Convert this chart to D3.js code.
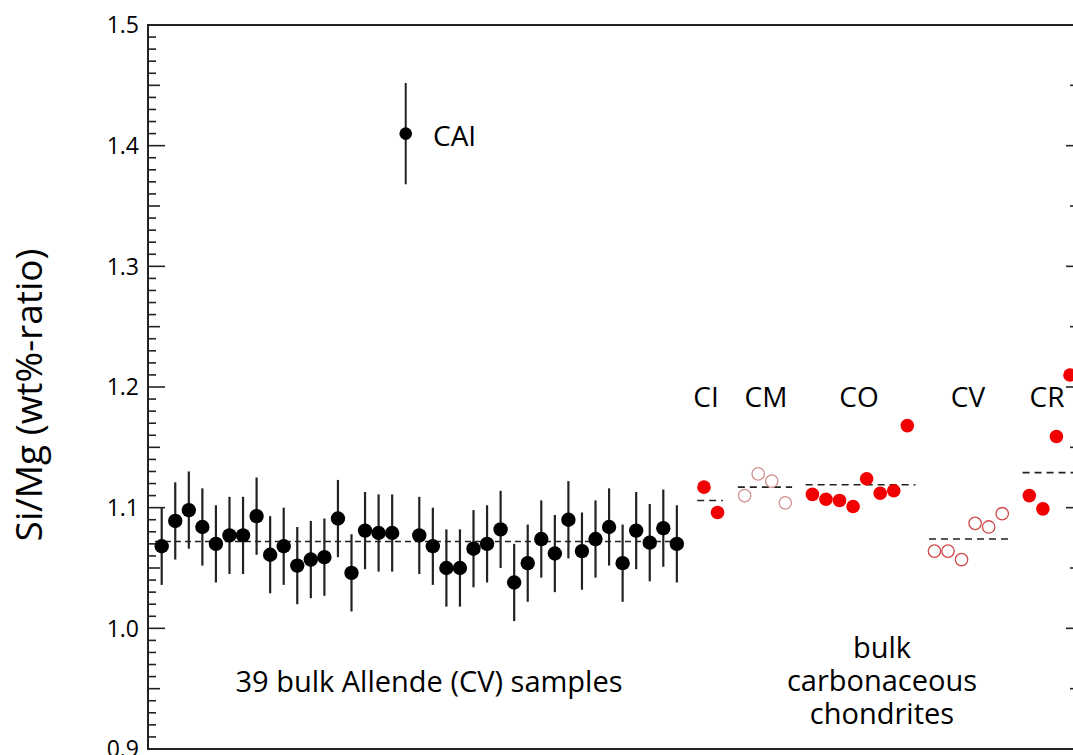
<!DOCTYPE html>
<html>
<head>
<meta charset="utf-8">
<script src="https://cdn.jsdelivr.net/npm/d3@7"></script>
<style>
  body { margin: 0; background: #fff; }
  svg { display: block; font-family: "Open Sans", "DejaVu Sans", sans-serif; }
</style>
</head>
<body>
<div id="chart"></div>
<script>
// Allende bulk samples (slot 18 is taken by the CAI)
const allendeValues = [1.068, 1.089, 1.098, 1.084, 1.070, 1.077, 1.077, 1.093, 1.061, 1.068,
    1.052, 1.057, 1.059, 1.091, 1.046, 1.081, 1.079, 1.079,
    1.077, 1.068, 1.050, 1.050, 1.066, 1.070, 1.082, 1.038, 1.054, 1.074,
    1.062, 1.090, 1.064, 1.074, 1.084, 1.054, 1.081, 1.071, 1.083, 1.070];
const allendeErr = 0.032;
const allendeMean = 1.072;

const caiValue = 1.410;
const caiErr = 0.042;
const caiSlot = 18;

// bulk carbonaceous chondrites
const groupNames = ["CI", "CM", "CO", "CV", "CR"];
const groupStart = [40, 43, 48, 57, 64];
const groupFilled = [true, false, true, false, true];
const groupMeans = [1.106, 1.117, 1.119, 1.074, 1.129];
const ciValues = [1.117, 1.096];
const cmValues = [1.110, 1.128, 1.122, 1.104];
const coValues = [1.111, 1.107, 1.106, 1.101, 1.124, 1.112, 1.114, 1.168];
const cvValues = [1.064, 1.064, 1.057, 1.087, 1.084, 1.095];
const crValues = [1.110, 1.099, 1.159, 1.210];
const groupValues = [ciValues, cmValues, coValues, cvValues, crValues];
const groupMeanExtent = [[39.5, 41.4], [42.5, 46.5], [47.5, 55.6], [56.6, 62.6], [63.5, 68]];

const yTicks = [0.9, 1.0, 1.1, 1.2, 1.3, 1.4, 1.5];

const svgWidth = 1073;
const svgHeight = 755;
const plotLeft = 148, plotRight = 1078, plotTop = 25, plotBottom = 749;

const svg = d3.select("#chart")
    .append("svg")
    .attr("width", svgWidth)
    .attr("height", svgHeight);

const xScale = d3.scaleLinear().domain([0, 67]).range([161.7, 1070]);
const yScale = d3.scaleLinear().domain([0.9, 1.5]).range([plotBottom, plotTop]);

// frame
svg.append("path")
    .attr("d", `M${plotRight},${plotTop}H${plotLeft}V${plotBottom}H${plotRight}`)
    .attr("fill", "none")
    .attr("stroke", "#222")
    .attr("stroke-width", 2);

// left axis: minor ticks every 0.01
const minor = d3.range(90, 151).map(d => d / 100);
svg.append("g").selectAll("line")
    .data(minor)
    .enter().append("line")
    .attr("x1", plotLeft)
    .attr("x2", (d, i) => plotLeft + (i % 10 === 0 ? 17 : i % 5 === 0 ? 12 : 8))
    .attr("y1", d => yScale(d))
    .attr("y2", d => yScale(d))
    .attr("stroke", "#222")
    .attr("stroke-width", 1.6);

svg.append("g").selectAll("text")
    .data(yTicks)
    .enter().append("text")
    .attr("x", 139)
    .attr("y", d => yScale(d))
    .attr("dy", "0.36em")
    .attr("text-anchor", "end")
    .attr("font-size", 23)
    .text(d => d.toFixed(1));

// right axis ticks every 0.05
const rightTicks = d3.range(18, 30).map(d => d / 20);
svg.append("g").selectAll("line")
    .data(rightTicks)
    .enter().append("line")
    .attr("x1", plotRight)
    .attr("x2", (d, i) => plotRight - (i % 2 === 0 ? 12 : 8))
    .attr("y1", d => yScale(d))
    .attr("y2", d => yScale(d))
    .attr("stroke", "#222")
    .attr("stroke-width", 1.6);

svg.append("text")
    .attr("transform", "translate(42,395) rotate(-90)")
    .attr("text-anchor", "middle")
    .attr("font-size", 37)
    .text("Si/Mg (wt%-ratio)");

// Allende samples
const allendeSlots = d3.range(0, 39).filter(i => i !== caiSlot);
const allende = allendeValues.map((v, i) => ({ slot: allendeSlots[i], value: v }));

svg.append("line")
    .attr("x1", xScale(-0.5))
    .attr("x2", xScale(38.5))
    .attr("y1", yScale(allendeMean))
    .attr("y2", yScale(allendeMean))
    .attr("stroke", "#222")
    .attr("stroke-width", 1.6)
    .attr("stroke-dasharray", "6,4");

svg.append("g").selectAll("line")
    .data(allende)
    .enter().append("line")
    .attr("x1", d => xScale(d.slot))
    .attr("x2", d => xScale(d.slot))
    .attr("y1", d => yScale(d.value - allendeErr))
    .attr("y2", d => yScale(d.value + allendeErr))
    .attr("stroke", "#222")
    .attr("stroke-width", 2.2);

svg.append("g").selectAll("circle")
    .data(allende)
    .enter().append("circle")
    .attr("cx", d => xScale(d.slot))
    .attr("cy", d => yScale(d.value))
    .attr("r", 7.2)
    .attr("fill", "#000");

// CAI
svg.append("line")
    .attr("x1", xScale(caiSlot))
    .attr("x2", xScale(caiSlot))
    .attr("y1", yScale(caiValue - caiErr))
    .attr("y2", yScale(caiValue + caiErr))
    .attr("stroke", "#222")
    .attr("stroke-width", 2);

svg.append("circle")
    .attr("cx", xScale(caiSlot))
    .attr("cy", yScale(caiValue))
    .attr("r", 6.3)
    .attr("fill", "#000");

svg.append("text")
    .attr("x", 433)
    .attr("y", yScale(caiValue) + 2)
    .attr("dy", "0.36em")
    .attr("font-size", 28)
    .text("CAI");

// chondrite groups
groupNames.forEach(function (name, g) {
    const start = groupStart[g];
    const [m0, m1] = groupMeanExtent[g];

    svg.append("line")
        .attr("x1", xScale(m0))
        .attr("x2", xScale(m1))
        .attr("y1", yScale(groupMeans[g]))
        .attr("y2", yScale(groupMeans[g]))
        .attr("stroke", "#222")
        .attr("stroke-width", 1.6)
        .attr("stroke-dasharray", "7,5");

    svg.append("g").selectAll("circle")
        .data(groupValues[g])
        .enter().append("circle")
        .attr("cx", (d, i) => xScale(start + i))
        .attr("cy", d => yScale(d))
        .attr("r", groupFilled[g] ? 6.8 : 6.2)
        .attr("fill", groupFilled[g] ? "#f00000" : "none")
        .attr("stroke", groupFilled[g] ? "none" : (name === "CM" ? "#d49090" : "#d04848"))
        .attr("stroke-width", 1.3);
});

const labelX = [706, 766, 859, 968, 1047];
svg.append("g").selectAll("text")
    .data(groupNames)
    .enter().append("text")
    .attr("x", (d, i) => labelX[i])
    .attr("y", 397)
    .attr("dy", "0.36em")
    .attr("text-anchor", "middle")
    .attr("font-size", 28)
    .text(d => d);

svg.append("text")
    .attr("x", 429)
    .attr("y", 682)
    .attr("dy", "0.36em")
    .attr("text-anchor", "middle")
    .attr("font-size", 29)
    .text("39 bulk Allende (CV) samples");

svg.append("g").selectAll("text")
    .data(["bulk", "carbonaceous", "chondrites"])
    .enter().append("text")
    .attr("x", 882)
    .attr("y", (d, i) => 648 + i * 33)
    .attr("dy", "0.36em")
    .attr("text-anchor", "middle")
    .attr("font-size", 29)
    .text(d => d);
</script>
</body>
</html>
